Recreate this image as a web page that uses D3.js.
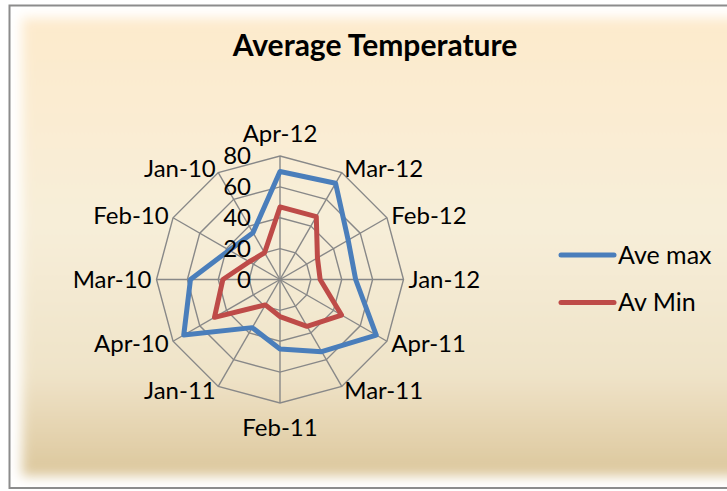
<!DOCTYPE html>
<html>
<head>
<meta charset="utf-8">
<script src="https://cdn.jsdelivr.net/npm/d3@7"></script>
<style>
  html, body { margin: 0; padding: 0; background: #ffffff; }
  svg { display: block; }
</style>
</head>
<body>
<svg id="chart" width="727" height="491"></svg>
<script>
// Categories, clockwise from the top spoke
const categories = ["Apr-12", "Mar-12", "Feb-12", "Jan-12", "Apr-11", "Mar-11",
                    "Feb-11", "Jan-11", "Apr-10", "Mar-10", "Feb-10", "Jan-10"];
const aveMax = [70, 72, 51, 49, 72, 54, 45, 36, 72, 58, 38, 35];
const avMin  = [47, 47, 28, 26, 46, 35, 24, 19, 49, 37, 23, 20];
const seriesNames = ["Ave max", "Av Min"];
const seriesColors = ["#4a7ebb", "#be4b48"];
const ringTicks = [0, 20, 40, 60, 80];

const svg = d3.select("#chart");
const W = 727, H = 491;
const cx = 280, cy = 279.5, R = 123.5;
const font = "Lato, 'Open Sans', sans-serif";
const labelSize = 24;

// ---- chart area background with soft edges ----
const defs = svg.append("defs");
const grad = defs.append("linearGradient")
  .attr("id", "bgGrad").attr("x1", 0).attr("y1", 0).attr("x2", 0).attr("y2", 1);
[["0%", "#fdeacc"], ["45%", "#f7eed9"], ["78%", "#efe3c8"], ["100%", "#dcc79c"]]
  .forEach(([o, c]) => grad.append("stop").attr("offset", o).attr("stop-color", c));
const blur = defs.append("filter").attr("id", "soft")
  .attr("x", "-10%").attr("y", "-10%").attr("width", "120%").attr("height", "120%");
blur.append("feGaussianBlur").attr("stdDeviation", 6);

svg.append("rect").attr("x", 0).attr("y", 0).attr("width", W).attr("height", H).attr("fill", "#ffffff");
svg.append("rect")
  .attr("x", 22).attr("y", 18).attr("width", W + 30).attr("height", 458)
  .attr("fill", "url(#bgGrad)").attr("filter", "url(#soft)");

// outer frame
svg.append("path")
  .attr("d", `M${W + 5},5.5 H9.5 V488 H${W + 5}`)
  .attr("fill", "none").attr("stroke", "#8c8c8c").attr("stroke-width", 2);

// ---- title ----
svg.append("text")
  .attr("x", 375).attr("y", 56)
  .attr("text-anchor", "middle")
  .attr("font-family", font).attr("font-weight", "bold").attr("font-size", 30)
  .attr("fill", "#000").text("Average Temperature");

// ---- radar ----
const r = d3.scaleLinear().domain([0, 80]).range([0, R]);
const step = 2 * Math.PI / categories.length;
const ang = (c) => categories.indexOf(c) * step;

const g = svg.append("g").attr("transform", `translate(${cx},${cy})`);

// grid rings
const ringLine = d3.lineRadial().curve(d3.curveLinearClosed)
  .angle((d) => ang(d.c)).radius((d) => r(d.v));
ringTicks.filter((t) => t > 0).forEach((t) => {
  g.append("path")
    .attr("d", ringLine(categories.map((c) => ({ c, v: t }))))
    .attr("fill", "none").attr("stroke", "#888888").attr("stroke-width", 1.4);
});

// spokes
categories.forEach((c) => {
  const a = ang(c);
  g.append("line")
    .attr("x1", 0).attr("y1", 0)
    .attr("x2", r(80) * Math.sin(a)).attr("y2", -r(80) * Math.cos(a))
    .attr("stroke", "#888888").attr("stroke-width", 1.4);
});

// series polygons
const seriesLine = d3.lineRadial().curve(d3.curveLinearClosed)
  .angle((d, i) => ang(categories[i])).radius((d) => r(d));
[aveMax, avMin].forEach((vals, k) => {
  g.append("path")
    .attr("d", seriesLine(vals))
    .attr("fill", "none").attr("stroke", seriesColors[k])
    .attr("stroke-width", 5).attr("stroke-linejoin", "round");
});

// ring value labels
ringTicks.forEach((t) => {
  g.append("text")
    .attr("x", -29).attr("y", -r(t))
    .attr("dy", "0.35em")
    .attr("text-anchor", "end")
    .attr("font-family", font).attr("font-size", labelSize).attr("fill", "#000")
    .text(t);
});

// category labels
categories.forEach((c) => {
  const a = ang(c);
  const s = Math.sin(a), co = Math.cos(a);
  const t = g.append("text")
    .attr("font-family", font).attr("font-size", labelSize).attr("fill", "#000")
    .text(c);
  if (Math.abs(s) < 0.01) {
    const rr = r(80) + 10;
    t.attr("x", 0).attr("text-anchor", "middle");
    if (co > 0) t.attr("y", -rr - 4);        // top spoke
    else t.attr("y", rr + 23);               // bottom spoke
  } else {
    const rr = r(80) + 5;
    t.attr("x", rr * s).attr("y", -rr * co)
      .attr("dy", "0.35em")
      .attr("text-anchor", s > 0 ? "start" : "end");
  }
});

// ---- legend ----
const legend = svg.append("g");
const legendY = d3.scalePoint().domain(seriesNames).range([255, 302.5]);
seriesNames.forEach((n, k) => {
  const y = legendY(n);
  legend.append("line")
    .attr("x1", 561).attr("x2", 614).attr("y1", y).attr("y2", y)
    .attr("stroke", seriesColors[k]).attr("stroke-width", 5)
    .attr("stroke-linecap", "round");
  legend.append("text")
    .attr("x", 618).attr("y", y).attr("dy", "0.35em")
    .attr("font-family", font).attr("font-size", 25).attr("fill", "#000")
    .text(n);
});
</script>
</body>
</html>
